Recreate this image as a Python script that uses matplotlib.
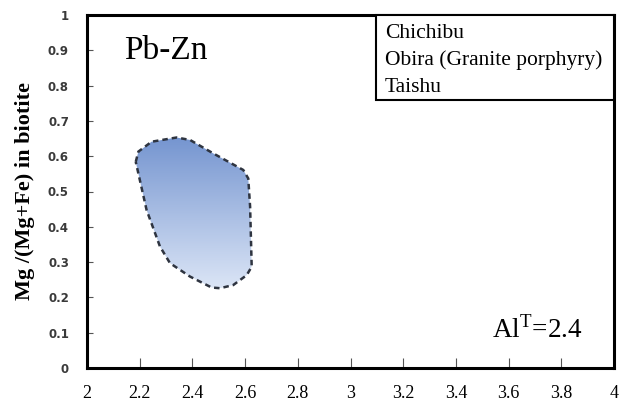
import numpy as np
import matplotlib
matplotlib.use("Agg")
import matplotlib.pyplot as plt
from matplotlib.patches import Polygon
from matplotlib.colors import LinearSegmentedColormap

# Data: outline of the Pb-Zn field (AlT vs Mg/(Mg+Fe))
field_x = [2.185, 2.195, 2.245, 2.340, 2.391, 2.479, 2.593, 2.612, 2.619, 2.625,
           2.606, 2.555, 2.505, 2.473, 2.391, 2.315, 2.277, 2.226]
field_y = [0.584, 0.613, 0.641, 0.653, 0.646, 0.608, 0.561, 0.537, 0.457, 0.287,
           0.263, 0.235, 0.226, 0.228, 0.259, 0.297, 0.344, 0.448]
x_ticks = [2, 2.2, 2.4, 2.6, 2.8, 3, 3.2, 3.4, 3.6, 3.8, 4]
x_labels = ["2", "2.2", "2.4", "2.6", "2.8", "3", "3.2", "3.4", "3.6", "3.8", "4"]
y_ticks = [0, 0.1, 0.2, 0.3, 0.4, 0.5, 0.6, 0.7, 0.8, 0.9, 1]
y_labels = ["0", "0.1", "0.2", "0.3", "0.4", "0.5", "0.6", "0.7", "0.8", "0.9", "1"]
legend_lines = ["Chichibu", "Obira (Granite porphyry)", "Taishu"]
field_name = "Pb-Zn"

plt.rcParams['mathtext.fontset'] = 'custom'
plt.rcParams['mathtext.rm'] = 'Liberation Serif'
serif = 'Liberation Serif'

fig = plt.figure(figsize=(6.21, 4.05), dpi=100)
ax = fig.add_axes([87/621, 37/405, (614-87)/621, (368-15)/405])
ax.set_xlim(2, 4)
ax.set_ylim(0, 1)

# gradient-filled polygon
poly = Polygon(np.column_stack([field_x, field_y]), closed=True,
               facecolor='none', edgecolor='none')
ax.add_patch(poly)
cmap = LinearSegmentedColormap.from_list('g', ['#dbe5f6', '#7595d0'])
grad = np.linspace(0, 1, 256).reshape(-1, 1)
im = ax.imshow(grad, cmap=cmap, aspect='auto', origin='lower',
               extent=[min(field_x), max(field_x), min(field_y), max(field_y)],
               zorder=1)
im.set_clip_path(poly)
ax.fill(field_x, field_y, facecolor='none', edgecolor='#2e3440',
        linewidth=1.8, linestyle=(0, (2.2, 1.6)), zorder=2)
ax.set_xlim(2, 4)
ax.set_ylim(0, 1)

for s in ax.spines.values():
    s.set_linewidth(2.2)
    s.set_color('black')

ax.set_xticks(x_ticks)
ax.set_xticklabels(x_labels, fontfamily=serif, fontsize=13)
ax.set_yticks(y_ticks)
ax.set_yticklabels(y_labels, fontfamily='DejaVu Sans', fontweight='bold',
                   fontsize=8.5, color='#3a3a3a')
ax.tick_params(axis='x', direction='in', length=7, width=0.8, color='#555555', pad=12)
ax.tick_params(axis='y', direction='in', length=4, width=0.8, color='#555555', pad=13)

ax.set_ylabel("Mg /(Mg+Fe) in biotite", fontfamily=serif, fontweight='bold',
              fontsize=16, labelpad=9)

ax.text((124-87)/527, 1 - (51-15)/353, field_name, transform=ax.transAxes,
        fontfamily=serif, fontsize=24, va='center', ha='left')

# legend box
lx0 = (376-87)/527
ly0 = 1 - (100-15)/353
ax.add_patch(plt.Rectangle((lx0, ly0), 1 - lx0, 1 - ly0, transform=ax.transAxes,
                           facecolor='white', edgecolor='black', linewidth=1.5,
                           zorder=3, clip_on=False))
for i, t in enumerate(legend_lines):
    ax.text((385-87)/527, 1 - (34 + 26.5*i - 15)/353, t, transform=ax.transAxes,
            fontfamily=serif, fontsize=15.5, va='center', ha='left', zorder=4)

ax.text((583-87)/527, 1 - (330-15)/353, r"Al$^{\mathrm{T}}$=2.4",
        transform=ax.transAxes, fontfamily=serif, fontsize=19.5,
        va='center', ha='right')

fig.savefig("out.png", dpi=100)
